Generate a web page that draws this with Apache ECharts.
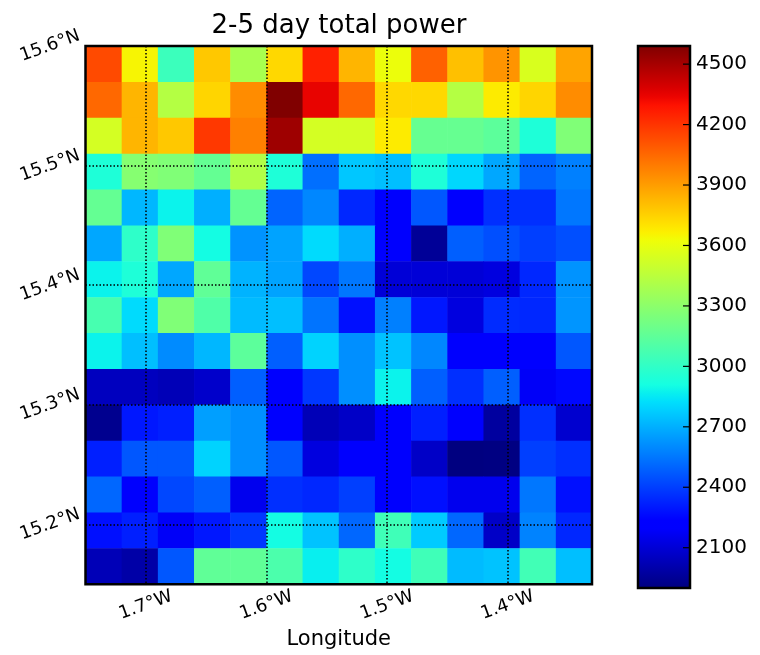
<!DOCTYPE html>
<html><head><meta charset="utf-8">
<script src="https://cdn.jsdelivr.net/npm/echarts@6/dist/echarts.min.js"></script>
<style>html,body{margin:0;padding:0;background:#fff}#c{width:760px;height:655px}</style>
</head><body><div id="c"></div>
<script>
// cell centres (degrees)
const lons = [-1.735,-1.705,-1.675,-1.645,-1.615,-1.585,-1.555,-1.525,-1.495,-1.465,-1.435,-1.405,-1.375,-1.345];
const lats = [15.585,15.555,15.525,15.495,15.465,15.435,15.405,15.375,15.345,15.315,15.285,15.255,15.225,15.195,15.165];
// 2-5 day total power, rows from north (top) to south (bottom)
const power = [
  [4136,3649,3036,3777,3389,3732,4256,3834,3613,4073,3800,3926,3548,3880],
  [4051,3834,3430,3740,3949,4590,4347,4051,3732,3732,3430,3679,3740,3949],
  [3534,3834,3777,4188,3983,4519,3534,3534,3679,3174,3174,3141,2942,3260],
  [2942,3279,3260,3168,3416,2942,2529,2762,2740,2942,2804,2677,2498,2572],
  [3168,2719,2877,2698,3168,2498,2593,2339,2215,2466,2215,2360,2360,2550],
  [2677,2993,3260,2904,2624,2667,2814,2698,2215,1954,2487,2445,2402,2445],
  [2877,2942,2677,3155,2709,2667,2424,2550,2103,2103,2103,2121,2339,2624],
  [3075,2814,3260,3101,2730,2740,2540,2276,2572,2297,2121,2350,2339,2630],
  [2877,2740,2603,2719,3141,2487,2793,2614,2751,2593,2215,2215,2225,2466],
  [2047,2047,2028,2075,2487,2215,2381,2614,2877,2487,2360,2487,2180,2255],
  [1935,2297,2318,2656,2614,2215,2028,2066,2215,2318,2215,1972,2360,2084],
  [2318,2466,2466,2793,2614,2466,2121,2215,2215,2066,1900,1905,2402,2360],
  [2508,2215,2424,2487,2158,2360,2339,2402,2215,2276,2158,2158,2550,2276],
  [2276,2318,2180,2297,2381,2904,2751,2508,3049,2772,2508,2066,2582,2339],
  [2028,1991,2466,3155,3155,3087,2867,2993,2904,3049,2730,2751,3055,2740]
];
const lonTicks = [-1.7,-1.6,-1.5,-1.4];
const latTicks = [15.2,15.3,15.4,15.5,15.6];
const cbarTicks = [2100,2400,2700,3000,3300,3600,3900,4200,4500];
const vMin = 1900, vMax = 4590;

// matplotlib "jet" colormap
const R=[[0,0],[0.35,0],[0.66,1],[0.89,1],[1,0.5]];
const G=[[0,0],[0.125,0],[0.375,1],[0.64,1],[0.91,0],[1,0]];
const B=[[0,0.5],[0.11,1],[0.34,1],[0.65,0],[1,0]];
function chan(p,t){for(let i=1;i<p.length;i++){if(t<=p[i][0]){const a=p[i-1],b=p[i];return a[1]+(b[1]-a[1])*(t-a[0])/(b[0]-a[0]);}}return p[p.length-1][1];}
function jet(t){const c=[R,G,B].map(p=>Math.round(255*chan(p,t)));return 'rgb('+c.join(',')+')';}
const NC=64, jetColors=[];
for(let i=0;i<=NC;i++) jetColors.push(jet(i/NC));
const stops = jetColors.map((c,i)=>({offset:i/NC,color:c}));

const cells=[];
lats.forEach((la,r)=>lons.forEach((lo,c)=>cells.push([lo,la,power[r][c]])));
const halfLon=(lons[1]-lons[0])/2, halfLat=(lats[0]-lats[1])/2;

const FF='DejaVu Sans';
const dotted={show:true,lineStyle:{color:'#000',type:[1.5,2],width:1.5}};
const chart=echarts.init(document.getElementById('c'),null,{renderer:'canvas'});
chart.setOption({
  animation:false,
  backgroundColor:'#fff',
  title:{text:'2-5 day total power',left:334,top:8,textAlign:'center',
    textStyle:{fontFamily:FF,fontSize:26,fontWeight:'normal',color:'#000'}},
  grid:[
    {left:85.5,top:46,width:506.5,height:542,show:true,borderColor:'#000',borderWidth:2.5,backgroundColor:'transparent',z:10},
    {left:638,top:46,width:52,height:542,show:true,borderColor:'#000',borderWidth:2.5,backgroundColor:'transparent',z:10}
  ],
  visualMap:{type:'continuous',show:false,seriesIndex:0,dimension:2,min:vMin,max:vMax,inRange:{color:jetColors}},
  xAxis:[
    {type:'value',gridIndex:0,min:-1.75,max:-1.33,z:5,
     axisLine:{show:false,onZero:false},axisTick:{show:false,customValues:lonTicks},
     axisLabel:{customValues:lonTicks,formatter:v=>Math.abs(v).toFixed(1)+'°W',rotate:20,align:'center',verticalAlign:'middle',margin:21,fontSize:18,color:'#000',fontFamily:FF},
     splitLine:dotted,
     name:'Longitude',nameLocation:'middle',nameGap:40,nameTextStyle:{fontSize:21,color:'#000',fontFamily:FF}},
    {type:'value',gridIndex:1,min:0,max:1,show:false,axisLine:{onZero:false}}
  ],
  yAxis:[
    {type:'value',gridIndex:0,min:15.15,max:15.6,z:5,
     axisLine:{show:false,onZero:false},axisTick:{show:false,customValues:latTicks},
     axisLabel:{customValues:latTicks,formatter:v=>v.toFixed(1)+'°N',rotate:20,align:'center',verticalAlign:'middle',margin:35.5,fontSize:18,color:'#000',fontFamily:FF,showMaxLabel:true,showMinLabel:true},
     splitLine:dotted},
    {type:'value',gridIndex:1,position:'right',min:vMin,max:vMax,z:11,
     axisLine:{show:false,onZero:false},
     axisTick:{show:false,customValues:cbarTicks},
     axisLabel:{customValues:cbarTicks,formatter:v=>String(v),fontSize:20,margin:6,color:'#000',fontFamily:FF},
     splitLine:{show:false}}
  ],
  series:[
    {type:'custom',xAxisIndex:0,yAxisIndex:0,data:cells,encode:{x:0,y:1},clip:true,
     renderItem:(params,api)=>{
       const lo=api.value(0), la=api.value(1);
       const p0=api.coord([lo-halfLon,la+halfLat]);
       const p1=api.coord([lo+halfLon,la-halfLat]);
       return {type:'rect',shape:{x:p0[0],y:p0[1],width:p1[0]-p0[0]+0.6,height:p1[1]-p0[1]+0.6},style:{fill:api.visual('color')}};
     }},
    {type:'custom',xAxisIndex:1,yAxisIndex:1,data:[[0,vMin,vMax]],encode:{x:0,y:1},
     renderItem:(params,api)=>{
       const p0=api.coord([0,api.value(2)]);
       const p1=api.coord([1,api.value(1)]);
       const children=[{type:'rect',shape:{x:p0[0],y:p0[1],width:p1[0]-p0[0],height:p1[1]-p0[1]},
         style:{fill:new echarts.graphic.LinearGradient(0,1,0,0,stops)}}];
       cbarTicks.forEach(v=>{
         const p=api.coord([1,v]);
         children.push({type:'line',shape:{x1:p[0]-7,y1:p[1],x2:p[0],y2:p[1]},style:{stroke:'#000',lineWidth:1.2}});
       });
       return {type:'group',children:children};
     }}
  ]
});
</script></body></html>
